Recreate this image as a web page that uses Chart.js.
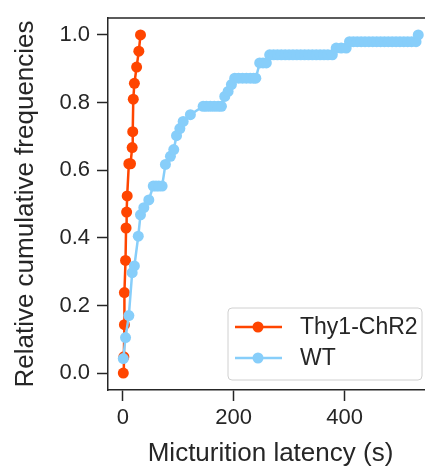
<!DOCTYPE html>
<html>
<head>
<meta charset="utf-8">
<script src="https://cdn.jsdelivr.net/npm/chart.js@4.4.1/dist/chart.umd.min.js"></script>
<style>
  html, body { margin: 0; padding: 0; background: #ffffff; overflow: hidden; }
  #view { width: 425px; height: 470px; overflow: hidden; }
  #wrap { width: 440px; height: 470px; }
</style>
</head>
<body>
<div id="view"><div id="wrap"><canvas id="cdfChart"></canvas></div></div>
<script>
// series labels and colours
const seriesNames = ["Thy1-ChR2", "WT"];
const seriesColors = ["#FF4500", "#87CEFA"];

// Thy1-ChR2: latency (s) and cumulative fraction
const thyLatency = [1, 2, 3, 3, 5, 6, 7, 8, 11, 14, 17, 18, 19, 21, 25, 29, 32];
const thyFraction = [0, 0.048, 0.143, 0.238, 0.333, 0.429, 0.476, 0.524, 0.619, 0.619, 0.667, 0.714, 0.81, 0.857, 0.905, 0.952, 1.0];

// WT: latency (s) and cumulative fraction
const wtLatency = [1, 5, 11, 17, 21, 28, 32, 38, 47, 55, 60, 65, 71, 77, 86, 92, 97, 103, 109, 122,
    145, 151, 158, 165, 172, 178, 184, 190, 196, 202, 209, 216, 223, 230, 236, 240,
    247, 253, 259, 265, 272, 279, 286, 293, 300, 307, 314, 321, 328, 335, 342, 349, 356, 363, 370, 378,
    385, 394, 403, 409, 416, 423, 430, 437, 444, 451, 458, 465, 472, 479, 486, 493, 500, 507, 514, 521, 529, 533];
const wtFraction = [0.043, 0.105, 0.17, 0.297, 0.317, 0.405, 0.468, 0.489, 0.512, 0.553, 0.553, 0.553, 0.553, 0.617, 0.641, 0.661, 0.702, 0.723, 0.744, 0.764,
    0.789, 0.789, 0.789, 0.789, 0.789, 0.789, 0.818, 0.833, 0.853, 0.872, 0.872, 0.872, 0.872, 0.872, 0.872, 0.872,
    0.917, 0.917, 0.917, 0.941, 0.941, 0.941, 0.941, 0.941, 0.941, 0.941, 0.941, 0.941, 0.941, 0.941, 0.941, 0.941, 0.941, 0.941, 0.941, 0.941,
    0.961, 0.961, 0.961, 0.98, 0.98, 0.98, 0.98, 0.98, 0.98, 0.98, 0.98, 0.98, 0.98, 0.98, 0.98, 0.98, 0.98, 0.98, 0.98, 0.98, 0.98, 1.0];

// tick labels
const xTicks = [0, 200, 400];
const yTicks = [0, 0.2, 0.4, 0.6, 0.8, 1.0];

const ink = "#262626";
const fontFamily = "'Liberation Sans', Arial, sans-serif";

const toPoints = (xs, ys) => xs.map((x, i) => ({ x: x, y: ys[i] }));

// top and right spines (matplotlib-style frame)
const frameLine = {
    id: "frameLine",
    afterDraw(chart) {
        const { ctx, chartArea } = chart;
        ctx.save();
        ctx.strokeStyle = ink;
        ctx.lineWidth = 1.5;
        ctx.beginPath();
        ctx.moveTo(chartArea.left - 0.75, chartArea.top);
        ctx.lineTo(chartArea.right, chartArea.top);
        ctx.lineTo(chartArea.right, chartArea.bottom);
        ctx.stroke();
        ctx.restore();
    }
};

// legend in lower right, line + marker handles
const boxLegend = {
    id: "boxLegend",
    afterDraw(chart) {
        const { ctx, chartArea } = chart;
        const bx = chartArea.right - 205, by = chartArea.bottom - 82;
        const bw = 194, bh = 72;
        ctx.save();
        ctx.beginPath();
        ctx.roundRect(bx, by, bw, bh, 4);
        ctx.fillStyle = "rgba(255,255,255,0.8)";
        ctx.fill();
        ctx.strokeStyle = "#d0d0d0";
        ctx.lineWidth = 1;
        ctx.stroke();
        seriesNames.forEach((name, i) => {
            const y = by + 19 + i * 31;
            ctx.strokeStyle = seriesColors[i];
            ctx.lineWidth = 2.5;
            ctx.beginPath();
            ctx.moveTo(bx + 7, y);
            ctx.lineTo(bx + 54, y);
            ctx.stroke();
            ctx.fillStyle = seriesColors[i];
            ctx.beginPath();
            ctx.arc(bx + 30, y, 5.5, 0, Math.PI * 2);
            ctx.fill();
            ctx.fillStyle = ink;
            ctx.font = "23px " + fontFamily;
            ctx.textBaseline = "middle";
            ctx.textAlign = "left";
            ctx.fillText(name, bx + 72, y + 1);
        });
        ctx.restore();
    }
};

new Chart(document.getElementById("cdfChart"), {
    type: "line",
    data: {
        datasets: [
            {
                label: seriesNames[0],
                data: toPoints(thyLatency, thyFraction),
                borderColor: seriesColors[0],
                backgroundColor: seriesColors[0],
                borderWidth: 2.5,
                pointRadius: 5.5,
                pointBorderWidth: 0,
                order: 1
            },
            {
                label: seriesNames[1],
                data: toPoints(wtLatency, wtFraction),
                borderColor: seriesColors[1],
                backgroundColor: seriesColors[1],
                borderWidth: 2.5,
                pointRadius: 5.5,
                pointBorderWidth: 0,
                order: 0
            }
        ]
    },
    options: {
        responsive: true,
        maintainAspectRatio: false,
        animation: false,
        devicePixelRatio: 1,
        layout: { autoPadding: false, padding: { top: 18, right: 7, bottom: 0, left: 0 } },
        plugins: {
            legend: { display: false },
            tooltip: { enabled: false }
        },
        scales: {
            x: {
                type: "linear",
                min: -26.6,
                max: 559.6,
                afterFit: s => { s.height = 80; s.paddingLeft = 0; s.paddingRight = 0; },
                afterBuildTicks: s => { s.ticks = xTicks.map(v => ({ value: v })); },
                ticks: {
                    color: ink,
                    padding: 4,
                    maxRotation: 0,
                    font: { family: fontFamily, size: 22 }
                },
                grid: { drawOnChartArea: false, drawTicks: true, tickLength: 11, tickWidth: 1.5, tickColor: ink },
                border: { display: true, color: ink, width: 1.5 },
                title: {
                    display: true,
                    text: "Micturition latency (s)",
                    color: ink,
                    font: { family: fontFamily, size: 26, lineHeight: 1.2 },
                    padding: { top: 0, bottom: 1 }
                }
            },
            y: {
                min: -0.05,
                max: 1.05,
                afterFit: s => { s.width = 108; s.paddingTop = 0; s.paddingBottom = 0; },
                afterBuildTicks: s => { s.ticks = yTicks.map(v => ({ value: v })); },
                ticks: {
                    color: ink,
                    padding: 7,
                    callback: v => v.toFixed(1),
                    font: { family: fontFamily, size: 22 }
                },
                grid: { drawOnChartArea: false, drawTicks: true, tickLength: 11, tickWidth: 1.5, tickColor: ink },
                border: { display: true, color: ink, width: 1.5 },
                title: {
                    display: true,
                    text: "Relative cumulative frequencies",
                    color: ink,
                    font: { family: fontFamily, size: 26, lineHeight: 1.2 },
                    padding: { top: 10, bottom: 0 }
                }
            }
        }
    },
    plugins: [frameLine, boxLegend]
});
</script>
</body>
</html>
